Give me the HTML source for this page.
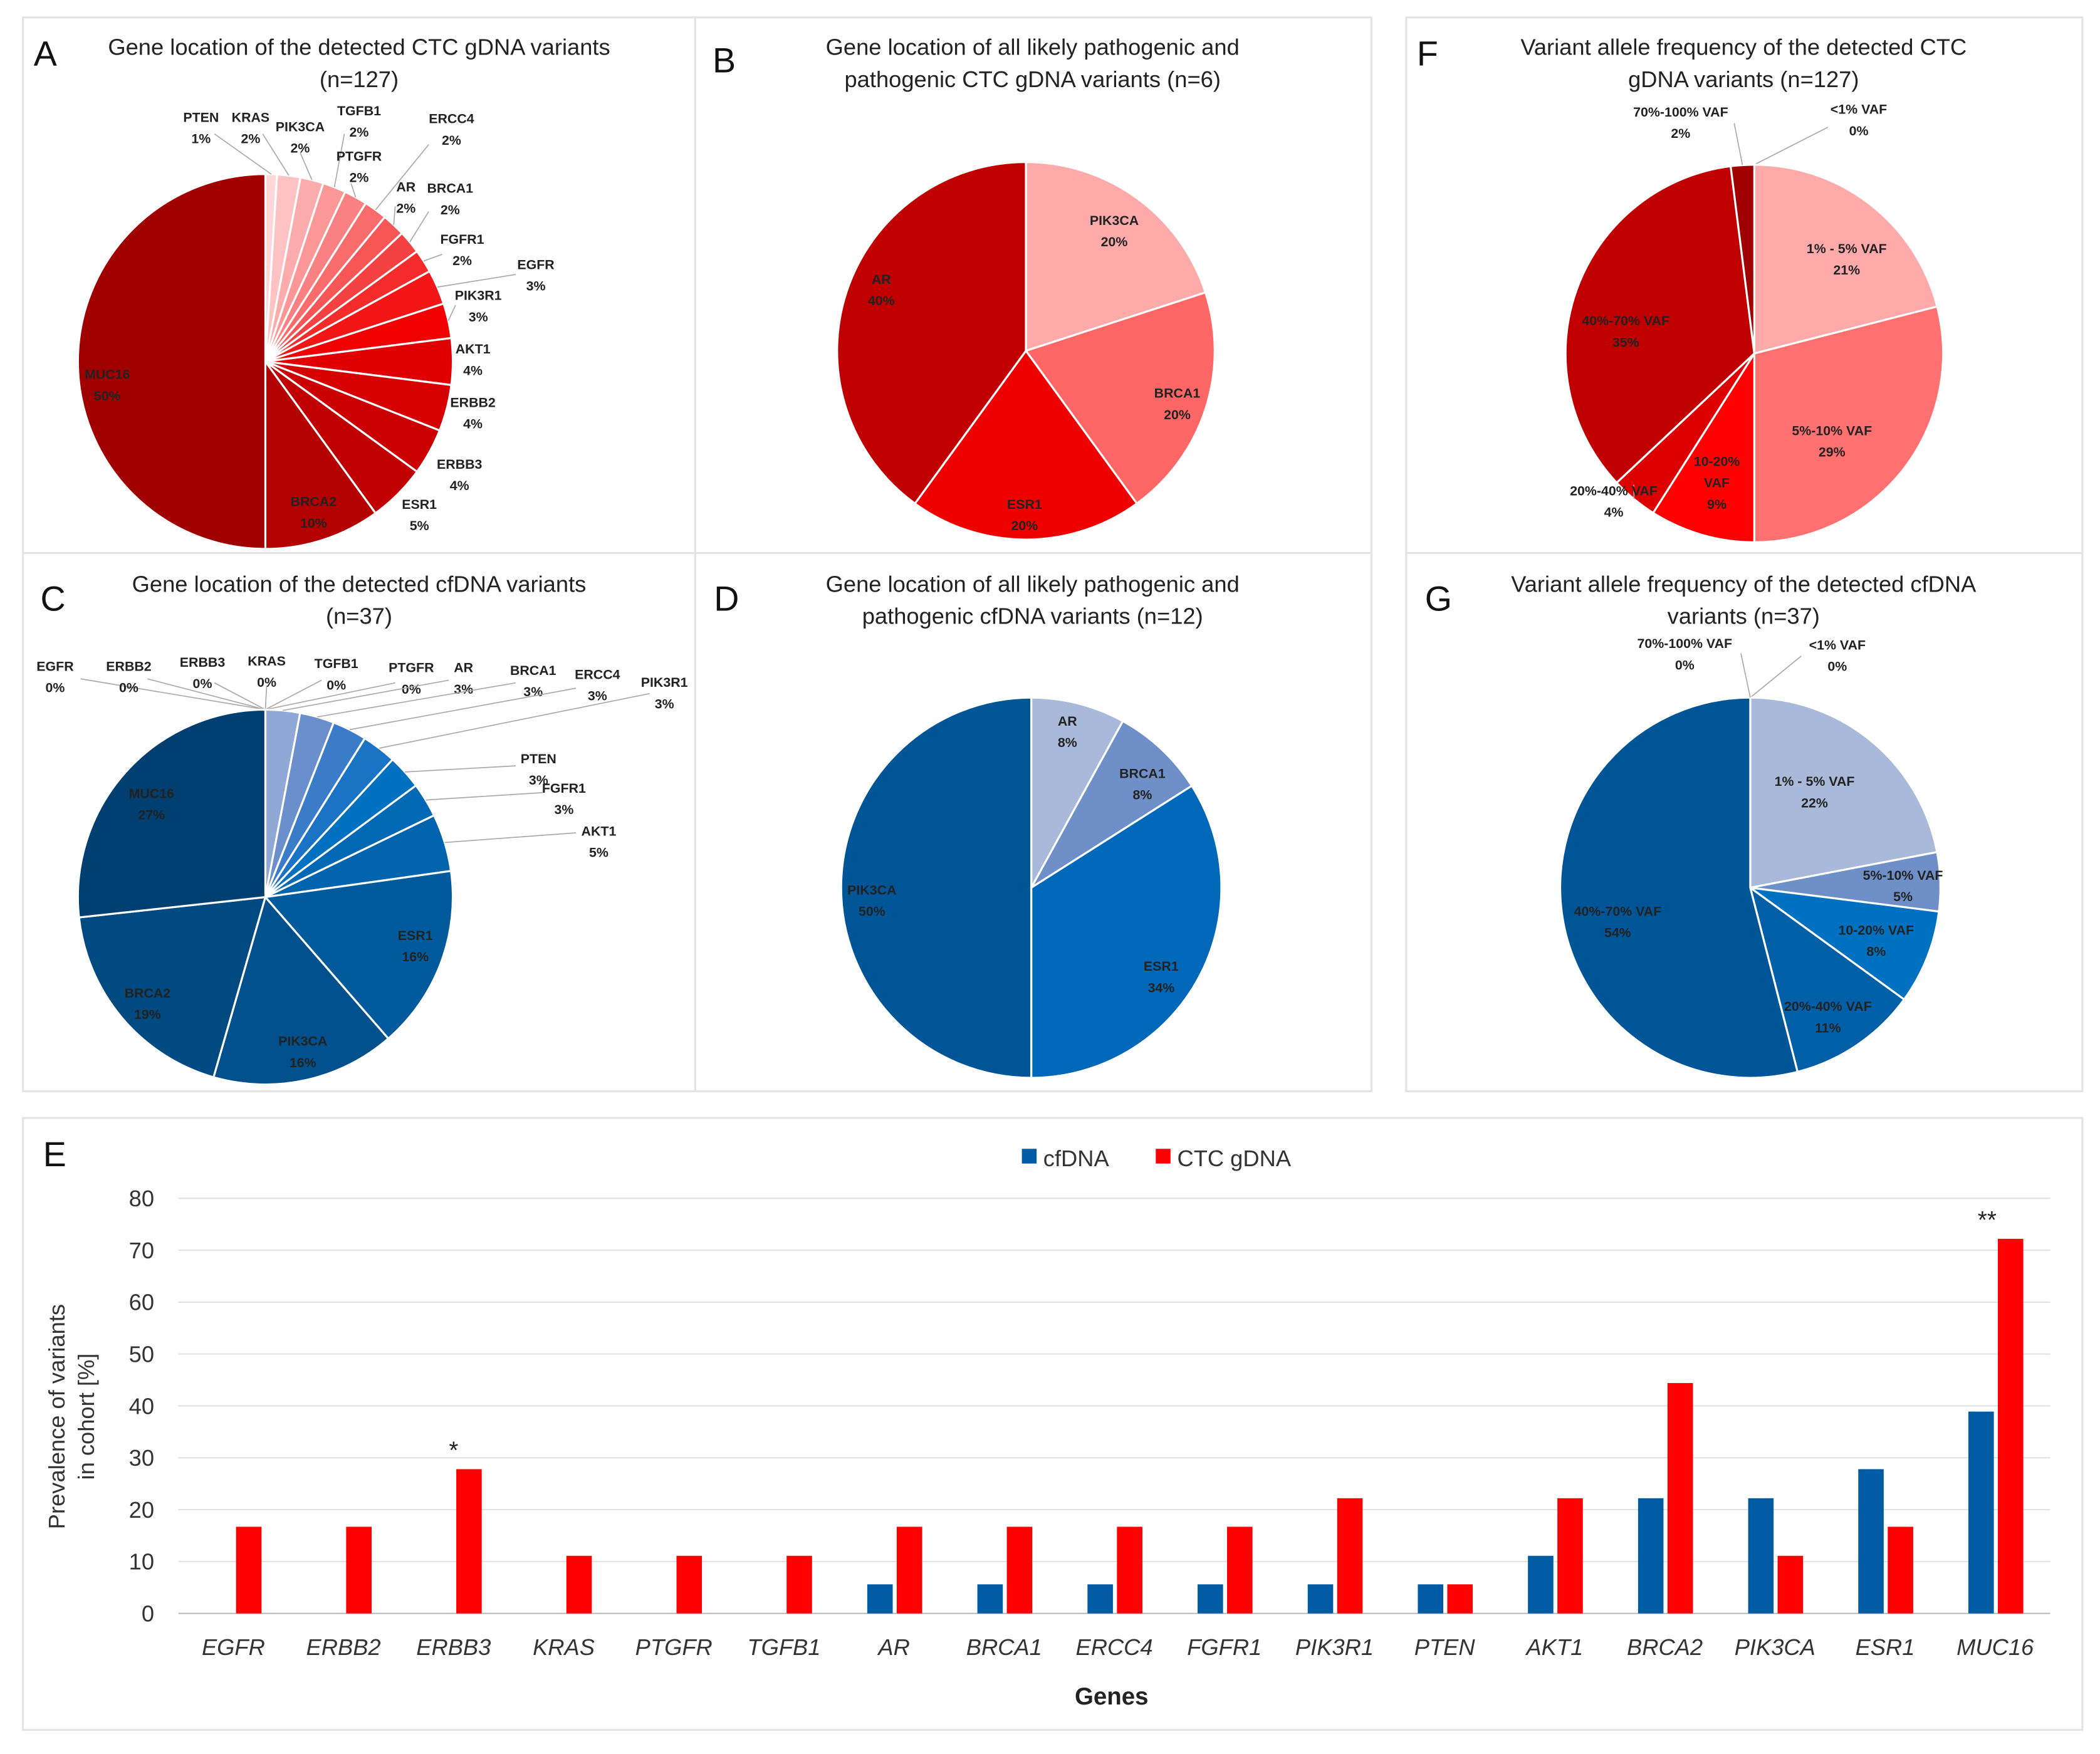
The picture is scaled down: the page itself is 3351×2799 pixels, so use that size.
<!DOCTYPE html>
<html><head><meta charset="utf-8">
<style>
html,body{margin:0;padding:0;background:#fff;}
svg{display:block;font-family:"Liberation Sans",sans-serif;}
.t{font-size:17px;fill:#222;text-anchor:middle;}
.lt{font-size:26px;fill:#111;}
.pl{font-size:10px;font-weight:bold;fill:#222;text-anchor:middle;}
</style></head>
<body>
<svg id="fig" width="3351" height="2799" viewBox="0 0 1568 1310" xmlns="http://www.w3.org/2000/svg">
<rect x="0" y="0" width="1568" height="1310" fill="#fff"/>
<g fill="none" stroke="#e4e4e4" stroke-width="1.5">
<rect x="17" y="13" width="1007" height="802"/>
<line x1="519" y1="13" x2="519" y2="815"/>
<line x1="17" y1="413" x2="1024" y2="413"/>
<rect x="1050" y="13" width="505" height="802"/>
<line x1="1050" y1="413" x2="1555" y2="413"/>
<rect x="17" y="835" width="1538" height="457"/>
</g>
<g class="lt">
<text x="25" y="49">A</text><text x="532" y="54">B</text><text x="1058" y="49">F</text>
<text x="30" y="456">C</text><text x="533" y="456">D</text><text x="1064" y="456">G</text>
<text x="32" y="871">E</text>
</g>
<g class="t">
<text x="268" y="41">Gene location of the detected CTC gDNA variants</text><text x="268" y="65">(n=127)</text>
<text x="771" y="41">Gene location of all likely pathogenic and</text><text x="771" y="65">pathogenic CTC gDNA variants (n=6)</text>
<text x="1302" y="41">Variant allele frequency of the detected CTC</text><text x="1302" y="65">gDNA variants (n=127)</text>
<text x="268" y="442">Gene location of the detected cfDNA variants</text><text x="268" y="466">(n=37)</text>
<text x="771" y="442">Gene location of all likely pathogenic and</text><text x="771" y="466">pathogenic cfDNA variants (n=12)</text>
<text x="1302" y="442">Variant allele frequency of the detected cfDNA</text><text x="1302" y="466">variants (n=37)</text>
</g>
<g id="pies"></g>
<g id="bars"></g>
</svg>
<script>
const NS="http://www.w3.org/2000/svg";
// Pie data
const pieANames=["PTEN","KRAS","PIK3CA","TGFB1","PTGFR","ERCC4","AR","BRCA1","FGFR1","EGFR","PIK3R1","AKT1","ERBB2","ERBB3","ESR1","BRCA2","MUC16"];
const pieAValues=[1,2,2,2,2,2,2,2,2,3,3,4,4,4,5,10,50];
const pieBNames=["PIK3CA","BRCA1","ESR1","AR"];
const pieBValues=[20,20,20,40];
const pieFNames=["<1% VAF","1% - 5% VAF","5%-10% VAF","10-20% VAF","20%-40% VAF","40%-70% VAF","70%-100% VAF"];
const pieFValues=[0,21,29,9,4,35,2];
const pieCNames=["EGFR","ERBB2","ERBB3","KRAS","TGFB1","PTGFR","AR","BRCA1","ERCC4","PIK3R1","PTEN","FGFR1","AKT1","ESR1","PIK3CA","BRCA2","MUC16"];
const pieCValues=[0,0,0,0,0,0,3,3,3,3,3,3,5,16,16,19,27];
const pieDNames=["AR","BRCA1","ESR1","PIK3CA"];
const pieDValues=[8,8,34,50];
const pieGNames=["<1% VAF","1% - 5% VAF","5%-10% VAF","10-20% VAF","20%-40% VAF","40%-70% VAF","70%-100% VAF"];
const pieGValues=[0,22,5,8,11,54,0];
// Bar chart data
const genes=["EGFR","ERBB2","ERBB3","KRAS","PTGFR","TGFB1","AR","BRCA1","ERCC4","FGFR1","PIK3R1","PTEN","AKT1","BRCA2","PIK3CA","ESR1","MUC16"];
const cfdna=[0,0,0,0,0,0,5.6,5.6,5.6,5.6,5.6,5.6,11.1,22.2,22.2,27.8,38.9];
const ctc=[16.7,16.7,27.8,11.1,11.1,11.1,16.7,16.7,16.7,16.7,22.2,5.6,22.2,44.4,11.1,16.7,72.2];
const yTicks=[0,10,20,30,40,50,60,70,80];

function el(tag,attrs,parent,txt){const e=document.createElementNS(NS,tag);for(const k in attrs)e.setAttribute(k,attrs[k]);if(txt!==undefined)e.textContent=txt;parent.appendChild(e);return e;}
function lerp(a,b,t){return Math.round(a+(b-a)*t);}
function grad(c1,c2,n,i){const t=n<=1?0:i/(n-1);return `rgb(${lerp(c1[0],c2[0],t)},${lerp(c1[1],c2[1],t)},${lerp(c1[2],c2[2],t)})`;}
const pies=document.getElementById('pies');
function drawPie(id,cx,cy,r,names,values,colors,labels,leaders){
  const g=el('g',{},pies);
  
  
  const tot=values.reduce((a,b)=>a+b,0);
  let a0=-Math.PI/2;
  names.forEach((n,i)=>{
    const a1=a0+values[i]/tot*2*Math.PI;
    if(values[i]>0){
      const large=(a1-a0)>Math.PI?1:0;
      const p=el('path',{d:`M${cx},${cy} L${cx+r*Math.cos(a0)},${cy+r*Math.sin(a0)} A${r},${r} 0 ${large} 1 ${cx+r*Math.cos(a1)},${cy+r*Math.sin(a1)} Z`,fill:colors[i],stroke:'#fff','stroke-width':1.5},g);
      
      
    }
    const L=labels[i];
    if(L){
      const am=(a0+a1)/2;
      if(leaders&&leaders[i]){
        const ln=el('polyline',{points:`${cx+r*Math.cos(am)},${cy+r*Math.sin(am)} ${leaders[i][0]},${leaders[i][1]}`,fill:'none',stroke:'#aaa','stroke-width':0.8},g);
        
        
      }
      const lines=L[2]||[n,Math.round(values[i])+'%'];
      const t=el('text',{x:L[0],y:L[1],class:'pl'},g);
      
      
      lines.forEach((s,k)=>el('tspan',{x:L[0],dy:k?16:0},t,s));
    }
    a0=a1;
  });
}
// Pie A
const redA=pieAValues.map((v,i)=>i<11?grad([255,215,215],[240,0,0],11,i):grad([225,0,0],[170,0,0],6,i-11));
redA[16]='#A00000';
drawPie('pie-a',198,270,140,pieANames,pieAValues,redA,
 [[150,91],[187,91],[224,98],[268,86],[268,120],[337,92],[303,143],[336,144],[345,182],[400,201],[357,224],[353,264],[353,304],[343,350],[313,380],[234,378],[80,283]],
 [[160,100],[196,100],[224,114],[257,100],[262,137],[320,108],[295,154],[320,158],[330,190],[385,205],[340,228],null,null,null,null,null,null]);
drawPie('pie-b',766,262,141,pieBNames,pieBValues,['#FFAAAA','#FF6666','#EE0000','#C00000'],
 [[832,168],[879,297],[765,380],[658,212]]);
drawPie('pie-f',1310,264,141,pieFNames,pieFValues,['#FFD0D0','#FFAAAA','#FF7070','#FF0000','#DD0000','#C00000','#A00000'],
 [[1388,85,['<1% VAF','0%']],[1379,189],[1368,325],[1282,348,['10-20%','VAF','9%']],[1205,370],[1214,243],[1255,87,['70%-100% VAF','2%']]],
 [[1365,95],null,null,null,[1220,362],null,[1295,92]]);
const blueC=['#B0C0DE','#B0C0DE','#B0C0DE','#B0C0DE','#B0C0DE','#B0C0DE','#8FA8D6','#6A8FCC','#3B7CC8','#1A73C5','#0070C0','#0068B5','#0063AD','#005A9C','#00508D','#004A82','#003F6F'];
drawPie('pie-c',198,670,140,pieCNames,pieCValues,blueC,
 [[41,501],[96,501],[151,498],[199,497],[251,499],[307,502],[346,502],[398,504],[446,507],[496,513],[402,570],[421,592],[447,624],[310,702],[226,781],[110,745],[113,596]],
 [[60,507],[110,507],[160,510],[199,512],[240,508],[295,510],[335,508],[385,510],[430,514],[485,518],[385,572],[405,592],[430,622],null,null,null,null]);
drawPie('pie-d',770,663,142,pieDNames,pieDValues,['#A9B9DA','#6F8FC8','#0068B8','#005597'],
 [[797,542],[853,581],[867,725],[651,668]]);
drawPie('pie-g',1307,663,142,pieGNames,pieGValues,['#C8D4EA','#A9B9DA','#6F8FC8','#0070C0','#005FA6','#005597','#003F6F'],
 [[1372,485,['<1% VAF','0%']],[1355,587],[1421,657],[1401,698],[1365,755],[1208,684],[1258,484,['70%-100% VAF','0%']]],
 [[1345,490],null,null,null,null,null,[1300,488]]);

// Bar chart
const bars=document.getElementById('bars');
const x0=133,x1=1531,yBase=1205,yTop=895,yMax=80;
const yS=v=>yBase-(v/yMax)*(yBase-yTop);
const step=(x1-x0)/genes.length;
const xC=i=>x0+step*(i+0.5);
yTicks.forEach(v=>{
  const l=el('line',{x1:x0,x2:x1,y1:yS(v),y2:yS(v),stroke:v===0?'#bbb':'#e2e2e2','stroke-width':1},bars);
  
  
  const t=el('text',{x:115,y:yS(v)+6,'text-anchor':'end','font-size':17,fill:'#333'},bars,String(v));
  
  
});
genes.forEach((g,i)=>{
  const c=xC(i);
  if(cfdna[i]>0){
    const b=el('rect',{x:c-20,y:yS(cfdna[i]),width:19,height:yBase-yS(cfdna[i]),fill:'#005BA5'},bars);
    
    
  }
  const r=el('rect',{x:c+2,y:yS(ctc[i]),width:19,height:yBase-yS(ctc[i]),fill:'#FF0000'},bars);
  
  
  const t=el('text',{x:c,y:1236,'text-anchor':'middle','font-size':17,'font-style':'italic',fill:'#333'},bars,g);
  
  
});
const s1=el('text',{x:xC(2),y:yS(ctc[2])-8,'text-anchor':'middle','font-size':18,fill:'#222'},bars,'*');


const s2=el('text',{x:xC(16)-6,y:yS(ctc[16])-8,'text-anchor':'middle','font-size':18,fill:'#222'},bars,'**');


const xt=el('text',{x:830,y:1273,'text-anchor':'middle','font-size':18,'font-weight':'bold',fill:'#222'},bars,'Genes');


const yt=el('text',{transform:'translate(48,1058) rotate(-90)','text-anchor':'middle','font-size':17,fill:'#333'},bars);


el('tspan',{x:0,dy:0},yt,'Prevalence of variants');
el('tspan',{x:0,dy:22},yt,'in cohort [%]');
const lg=el('g',{},bars);


el('rect',{x:763,y:858,width:11,height:11,fill:'#005BA5'},lg);
el('text',{x:779,y:871,'font-size':17,fill:'#333'},lg,'cfDNA');
el('rect',{x:863,y:858,width:11,height:11,fill:'#FF0000'},lg);
el('text',{x:879,y:871,'font-size':17,fill:'#333'},lg,'CTC gDNA');
</script>
</body></html>
